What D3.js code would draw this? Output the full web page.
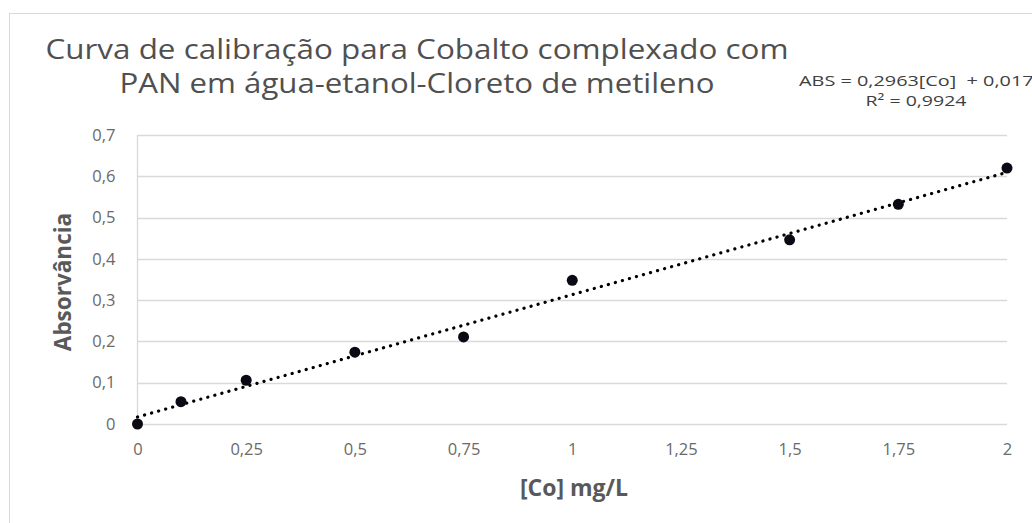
<!DOCTYPE html>
<html><head><meta charset="utf-8">
<script src="https://cdn.jsdelivr.net/npm/d3@7"></script>
<style>body{margin:0;background:#fff}svg{display:block}</style>
</head><body>
<script>
const concentrations = [0, 0.1, 0.25, 0.5, 0.75, 1, 1.5, 1.75, 2];
const absorbances = [0, 0.054, 0.106, 0.174, 0.211, 0.348, 0.446, 0.532, 0.62];
const xTicks = [0, 0.25, 0.5, 0.75, 1, 1.25, 1.5, 1.75, 2];
const yTicks = [0, 0.1, 0.2, 0.3, 0.4, 0.5, 0.6, 0.7];
const trendSlope = 0.2963, trendIntercept = 0.017;
const titleLines = ["Curva de calibração para Cobalto complexado com", "PAN em água-etanol-Cloreto de metileno"];
const eqLines = ["ABS = 0,2963[Co]  + 0,0171", "R² = 0,9924"];

const W = 1032, H = 523;
const svg = d3.select("body").append("svg").attr("width", W).attr("height", H);
const font = "'Open Sans', 'Liberation Sans', sans-serif";
const fmt = v => String(v).replace(".", ",");

svg.append("rect").attr("x", 9.5).attr("y", 13.5).attr("width", W).attr("height", H)
  .attr("fill", "#fff").attr("stroke", "#d9d9d9");

const x = d3.scaleLinear().domain([0, 2]).range([137.5, 1007]);
const y = d3.scaleLinear().domain([0, 0.7]).range([424, 135]);

// gridlines
svg.append("g").selectAll("line").data(yTicks).join("line")
  .attr("x1", x(0)).attr("x2", x(2)).attr("y1", d => Math.round(y(d)) + 0.5).attr("y2", d => Math.round(y(d)) + 0.5)
  .attr("stroke", "#d9d9d9").attr("stroke-width", 1.3);
svg.append("line").attr("x1", x(0)).attr("x2", x(0)).attr("y1", y(0.7)).attr("y2", y(0))
  .attr("stroke", "#d9d9d9").attr("stroke-width", 1.3);

// axes via d3
const xAxis = svg.append("g").attr("transform", `translate(0,${y(0)})`)
  .call(d3.axisBottom(x).tickValues(xTicks).tickFormat(fmt).tickSize(0).tickPadding(19));
const yAxis = svg.append("g").attr("transform", `translate(${x(0)},0)`)
  .call(d3.axisLeft(y).tickValues(yTicks).tickFormat(fmt).tickSize(0).tickPadding(22));
[xAxis, yAxis].forEach(g => {
  g.select(".domain").remove();
  g.selectAll("text").attr("fill", "#6a6a6a").attr("font-family", font).attr("font-size", 16.5);
});

// trendline
svg.append("line")
  .attr("x1", x(0)).attr("y1", y(trendIntercept))
  .attr("x2", x(2)).attr("y2", y(trendSlope * 2 + trendIntercept))
  .attr("stroke", "#000").attr("stroke-width", 3.2).attr("stroke-linecap", "round")
  .attr("stroke-dasharray", "0.1 7.2");

// points
svg.append("g").selectAll("circle").data(concentrations).join("circle")
  .attr("cx", d => x(d)).attr("cy", (d, i) => y(absorbances[i])).attr("r", 5.5)
  .attr("fill", "#0a0a14");

// titles
svg.append("g").selectAll("text").data(titleLines).join("text")
  .attr("x", 417).attr("y", (d, i) => 59 + i * 34).attr("text-anchor", "middle")
  .attr("font-family", font).attr("font-size", 26.5).attr("fill", "#505050")
  .attr("textLength", (d, i) => i === 0 ? 743 : 595).attr("lengthAdjust", "spacingAndGlyphs")
  .text(d => d);

svg.append("text").attr("x", 799).attr("y", 86)
  .attr("font-family", font).attr("font-size", 15).attr("fill", "#404040")
  .attr("xml:space", "preserve").attr("textLength", 246).attr("lengthAdjust", "spacingAndGlyphs").text(eqLines[0]);
svg.append("text").attr("x", 916).attr("y", 106).attr("text-anchor", "middle")
  .attr("font-family", font).attr("font-size", 15).attr("fill", "#404040")
  .attr("textLength", 101).attr("lengthAdjust", "spacingAndGlyphs").text(eqLines[1]);

svg.append("text").attr("x", 574).attr("y", 496).attr("text-anchor", "middle")
  .attr("font-family", font).attr("font-size", 23).attr("font-weight", "bold").attr("fill", "#595959").text("[Co] mg/L");

svg.append("text").attr("transform", "translate(71,282) rotate(-90)").attr("text-anchor", "middle")
  .attr("font-family", font).attr("font-size", 22.5).attr("font-weight", "bold").attr("fill", "#595959").text("Absorvância");
</script>
</body></html>
